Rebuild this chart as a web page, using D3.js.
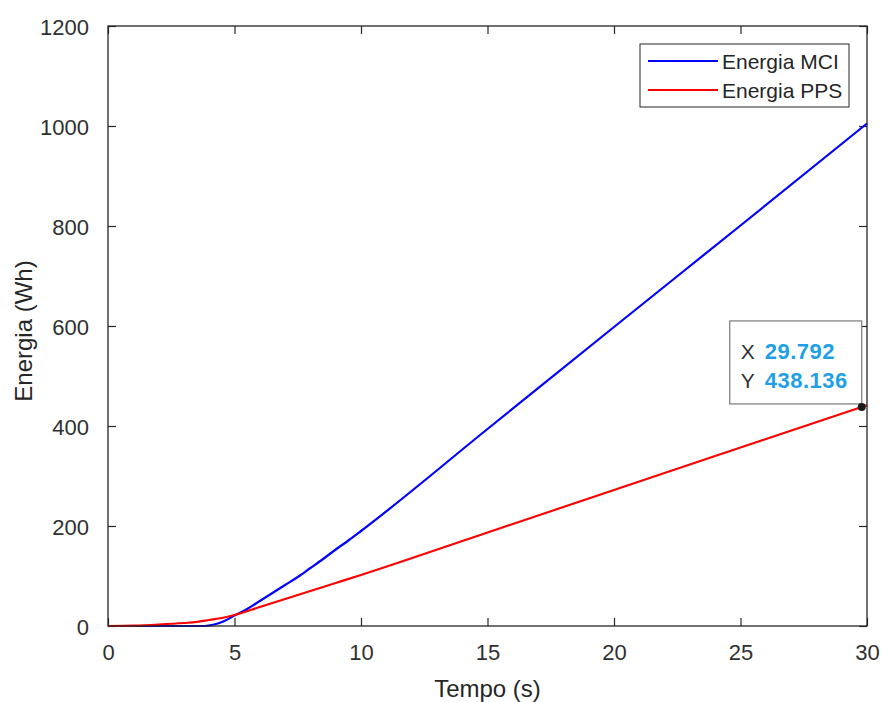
<!DOCTYPE html>
<html>
<head>
<meta charset="utf-8">
<script src="https://cdn.jsdelivr.net/npm/d3@7"></script>
<style>
  html, body { margin: 0; padding: 0; background: #ffffff; }
  svg { display: block; font-family: "Liberation Sans", Arial, sans-serif; }
</style>
</head>
<body>
<svg id="chart" width="882" height="702"></svg>
<script>
// ---- data ----
const timeMCI   = [0, 1, 2, 3, 3.8, 4.2, 4.6, 5, 5.5, 6, 6.5, 7, 7.5, 8, 8.5, 9, 9.5, 10, 15, 20, 25, 30];
const energyMCI = [0, 0, 0, 0, 0, 3, 10, 21, 34, 50, 66, 82, 98, 116, 134, 153, 171, 190, 394, 598, 801, 1005];
const timePPS   = [0, 1, 2, 3, 3.5, 4, 4.5, 5, 6, 7, 8, 9, 10, 15, 20, 25, 29.792, 30];
const energyPPS = [0, 0.8, 3, 6, 8, 12, 16, 22, 38, 54, 70, 86, 102, 187, 272, 357, 438.136, 441.7];
const seriesNames = ["Energia MCI", "Energia PPS"];
const seriesColors = ["#0000ff", "#ff0000"];
const xTicks = [0, 5, 10, 15, 20, 25, 30];
const yTicks = [0, 200, 400, 600, 800, 1000, 1200];
const tipX = 29.792, tipY = 438.136;
const xLabel = "Tempo (s)";
const yLabel = "Energia (Wh)";

// ---- layout ----
const svg = d3.select("#chart");
const L = 108, R = 867, T = 26, B = 626;
const x = d3.scaleLinear().domain([0, 30]).range([L, R]);
const y = d3.scaleLinear().domain([0, 1200]).range([B, T]);
const axisColor = "#262626";
const tickLen = 8;

svg.append("rect").attr("x", L).attr("y", T).attr("width", R - L).attr("height", B - T).attr("fill", "#ffffff");

const fontTick = 22;
const fmt = d3.format("d");
const gx = svg.append("g").attr("transform", `translate(0,${B})`)
  .call(d3.axisBottom(x).tickValues(xTicks).tickFormat(fmt).tickSizeInner(-tickLen).tickSizeOuter(0).tickPadding(18));
const gy = svg.append("g").attr("transform", `translate(${L},0)`)
  .call(d3.axisLeft(y).tickValues(yTicks).tickFormat(fmt).tickSizeInner(-tickLen).tickSizeOuter(0).tickPadding(19));
const gxt = svg.append("g").attr("transform", `translate(0,${T})`)
  .call(d3.axisTop(x).tickValues(xTicks).tickSizeInner(-tickLen).tickSizeOuter(0).tickFormat(""));
const gyr = svg.append("g").attr("transform", `translate(${R},0)`)
  .call(d3.axisRight(y).tickValues(yTicks).tickSizeInner(-tickLen).tickSizeOuter(0).tickFormat(""));
[gx, gy, gxt, gyr].forEach(g => {
  g.select(".domain").remove();
  g.selectAll(".tick line").attr("stroke", axisColor).attr("stroke-width", 1.2);
  g.selectAll(".tick text").attr("fill", "#303030").attr("font-size", fontTick)
    .attr("font-family", "'Liberation Sans', Arial, sans-serif");
});
gy.selectAll(".tick text").attr("dy", "0.38em");
gx.selectAll(".tick text").attr("dy", "0.71em");

const line = d3.line().x(d => x(d[0])).y(d => y(d[1])).curve(d3.curveMonotoneX);
const dataMCI = timeMCI.map((t, i) => [t, energyMCI[i]]);
const dataPPS = timePPS.map((t, i) => [t, energyPPS[i]]);
svg.append("path").datum(dataMCI).attr("d", line)
  .attr("fill", "none").attr("stroke", seriesColors[0]).attr("stroke-width", 2.2);
svg.append("path").datum(dataPPS).attr("d", line)
  .attr("fill", "none").attr("stroke", seriesColors[1]).attr("stroke-width", 2.2);

svg.append("rect").attr("x", L).attr("y", T).attr("width", R - L).attr("height", B - T)
  .attr("fill", "none").attr("stroke", axisColor).attr("stroke-width", 1.3);

svg.append("text").attr("x", (L + R) / 2).attr("y", 697).attr("text-anchor", "middle")
  .attr("font-size", 24).attr("fill", axisColor).text(xLabel);
svg.append("text").attr("transform", `translate(32,${(T + B) / 2 + 5}) rotate(-90)`)
  .attr("text-anchor", "middle").attr("font-size", 24).attr("fill", axisColor).text(yLabel);

// legend
const lg = svg.append("g");
lg.append("rect").attr("x", 640).attr("y", 44).attr("width", 209).attr("height", 63)
  .attr("fill", "#ffffff").attr("stroke", axisColor).attr("stroke-width", 1);
seriesNames.forEach((name, i) => {
  const yy = 61 + i * 29;
  lg.append("line").attr("x1", 648).attr("x2", 718).attr("y1", yy).attr("y2", yy)
    .attr("stroke", seriesColors[i]).attr("stroke-width", 2);
  lg.append("text").attr("x", 722).attr("y", yy).attr("dy", "0.36em")
    .attr("font-size", 21).attr("fill", axisColor).text(name);
});

// data tip
const px = x(tipX), py = y(tipY);
const boxR = px, boxB = py - 3, boxW = 132, boxH = 83;
svg.append("rect").attr("x", boxR - boxW).attr("y", boxB - boxH).attr("width", boxW).attr("height", boxH)
  .attr("fill", "#ffffff").attr("fill-opacity", 0.95).attr("stroke", "#7a7a7a").attr("stroke-width", 1.2);
const tipRows = [["X", tipX.toFixed(3)], ["Y", tipY.toFixed(3)]];
tipRows.forEach((r, i) => {
  const by = boxB - boxH + 38 + i * 29;
  svg.append("text").attr("x", boxR - boxW + 11).attr("y", by).attr("font-size", 21)
    .attr("fill", "#333333").text(r[0]);
  svg.append("text").attr("x", boxR - boxW + 35).attr("y", by).attr("font-size", 22)
    .attr("font-weight", "bold").attr("letter-spacing", "0.5px").attr("fill", "#1e9fe6").text(r[1]);
});
svg.append("circle").attr("cx", px).attr("cy", py).attr("r", 4).attr("fill", "#1a1a1a");
</script>
</body>
</html>
